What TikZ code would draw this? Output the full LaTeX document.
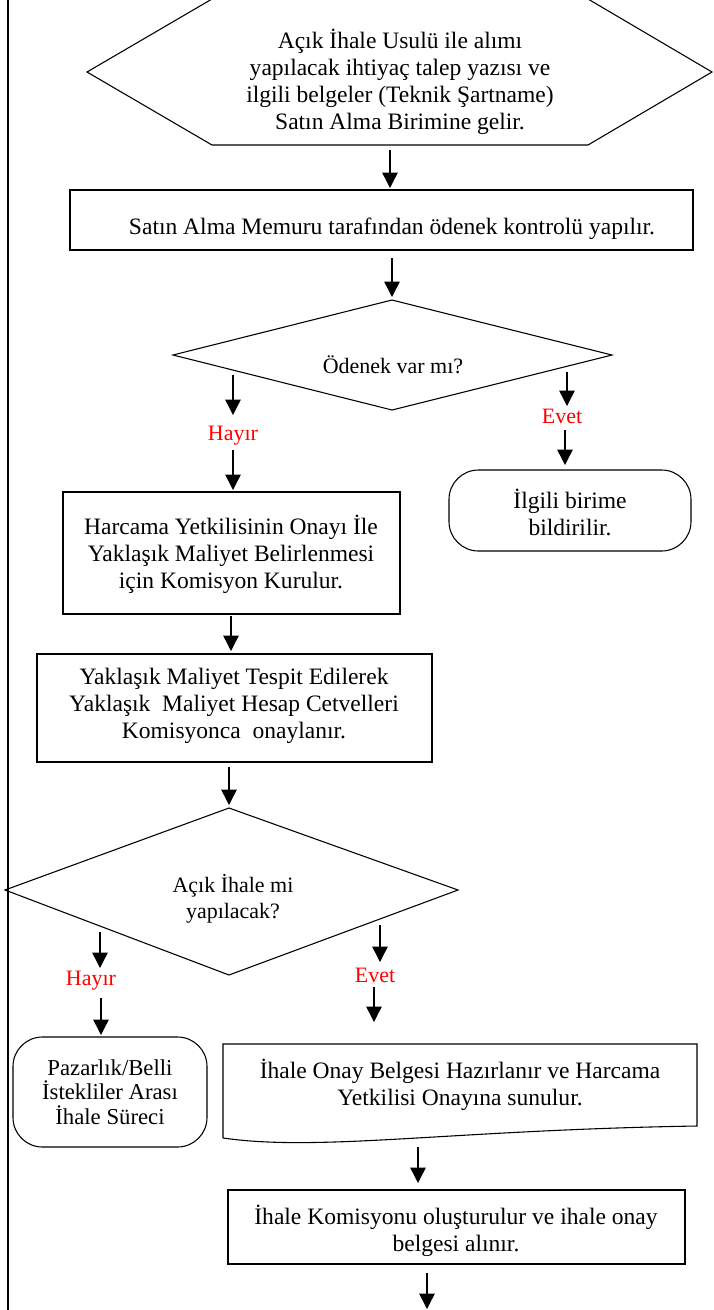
\documentclass[tikz,border=0pt]{standalone}
\usepackage{fontspec}
\usepackage{tikz}
\usetikzlibrary{arrows.meta}
\newfontfamily\tnr{Liberation Serif}

\begin{document}
\begin{tikzpicture}[x=0.51pt, y=-0.51pt, line width=0.55pt,
    arr/.style={-{Triangle[width=7.8pt,length=7.8pt]}, line width=0.7pt},
    tim/.style={font=\fontsize{12}{13.8}\selectfont\tnr, align=center, inner sep=0pt},
    cam/.style={font=\fontsize{11.2}{13.3}\selectfont\tnr, align=center, inner sep=0pt},
    yesno/.style={cam, text=red}]
    \useasboundingbox (0,0) rectangle (713,1310);
    % --- Page border ---
    \draw[line width=1.2pt] (8,0) -- (8,1310);

    % --- Start (hexagon) ---
    \draw (87,72) -- (212,-1) -- (588,-1) -- (712,72) -- (588,145) -- (212,145) -- cycle;
    \node[tim] (start) at (400,82) {Açık İhale Usulü ile alımı\\yapılacak ihtiyaç talep yazısı ve\\ilgili belgeler (Teknik Şartname)\\Satın Alma Birimine gelir.};

    % --- Allowance check ---
    \draw (70,190) rectangle (693,250);
    \node[tim] (kontrol) at (392,229) {Satın Alma Memuru tarafından ödenek kontrolü yapılır.};

    % Decision: allowance
    \draw (392,300) -- (612,355) -- (392,410) -- (173,355) -- cycle;
    \node[cam] (odenek) at (393,365) {Ödenek var mı?};
    \node[yesno] (hayir1) at (233,436) {Hayır};
    \node[yesno] (evet1) at (562,416) {Evet};

    % No allowance
    \draw[rounded corners=15] (449,470) rectangle (691,551);
    \node[tim] (bildir) at (570,512) {İlgili birime\\bildirilir.};

    % --- Commission and cost ---
    \draw (63,492) rectangle (400,614);
    \node[tim] (komisyon) at (231,554) {Harcama Yetkilisinin Onayı İle\\Yaklaşık Maliyet Belirlenmesi\\için Komisyon Kurulur.};
    \draw (37,654) rectangle (432,762);
    \node[tim] (maliyet) at (234,706) {Yaklaşık Maliyet Tespit Edilerek\\Yaklaşık\ \ Maliyet Hesap Cetvelleri\\Komisyonca\ \ onaylanır.};

    % Decision: open tender
    \draw (229,808) -- (458,890) -- (229,975) -- (5,890) -- cycle;
    \node[cam] (acik) at (233,899) {Açık İhale mi\\yapılacak?};
    \node[yesno] (hayir2) at (91,981) {Hayır};
    \node[yesno] (evet2) at (375,975) {Evet};

    % Other procedures
    \draw[rounded corners=15] (13,1037) rectangle (207,1147);
    \node[cam, font=\fontsize{11.6}{12.6}\selectfont\tnr] (pazarlik) at (110,1092) {Pazarlık/Belli\\İstekliler Arası\\İhale Süreci};

    % --- Approval document (wavy bottom) ---
    \draw (223,1138) -- (223,1044) -- (697,1044) -- (697,1126)
        .. controls (450,1130) and (320,1152) .. (223,1138);
    \node[tim] (onay) at (460,1085) {İhale Onay Belgesi Hazırlanır ve Harcama\\Yetkilisi Onayına sunulur.};
    \draw (228,1190) rectangle (685,1264);
    \node[tim] (ihalekom) at (456,1231) {İhale Komisyonu oluşturulur ve ihale onay\\belgesi alınır.};

    % Arrows
    \foreach \n/\x/\ya/\yb in {1/390/150/188, 2/392/258/297, 3/233/375/415, 4/233/450/490,
        5/567/372/406, 6/565/430/465, 7/231/616/651, 8/229/767/805, 9/100/932/968,
        10/101/998/1035, 11/380/925/962, 12/374/987/1022, 13/418/1147/1183, 14/427/1273/1309}
    {
        \coordinate (a\n) at (\x,\ya);
        \coordinate (b\n) at (\x,\yb);
        \draw[arr] (a\n) -- (b\n);
    }
\end{tikzpicture}
\end{document}
